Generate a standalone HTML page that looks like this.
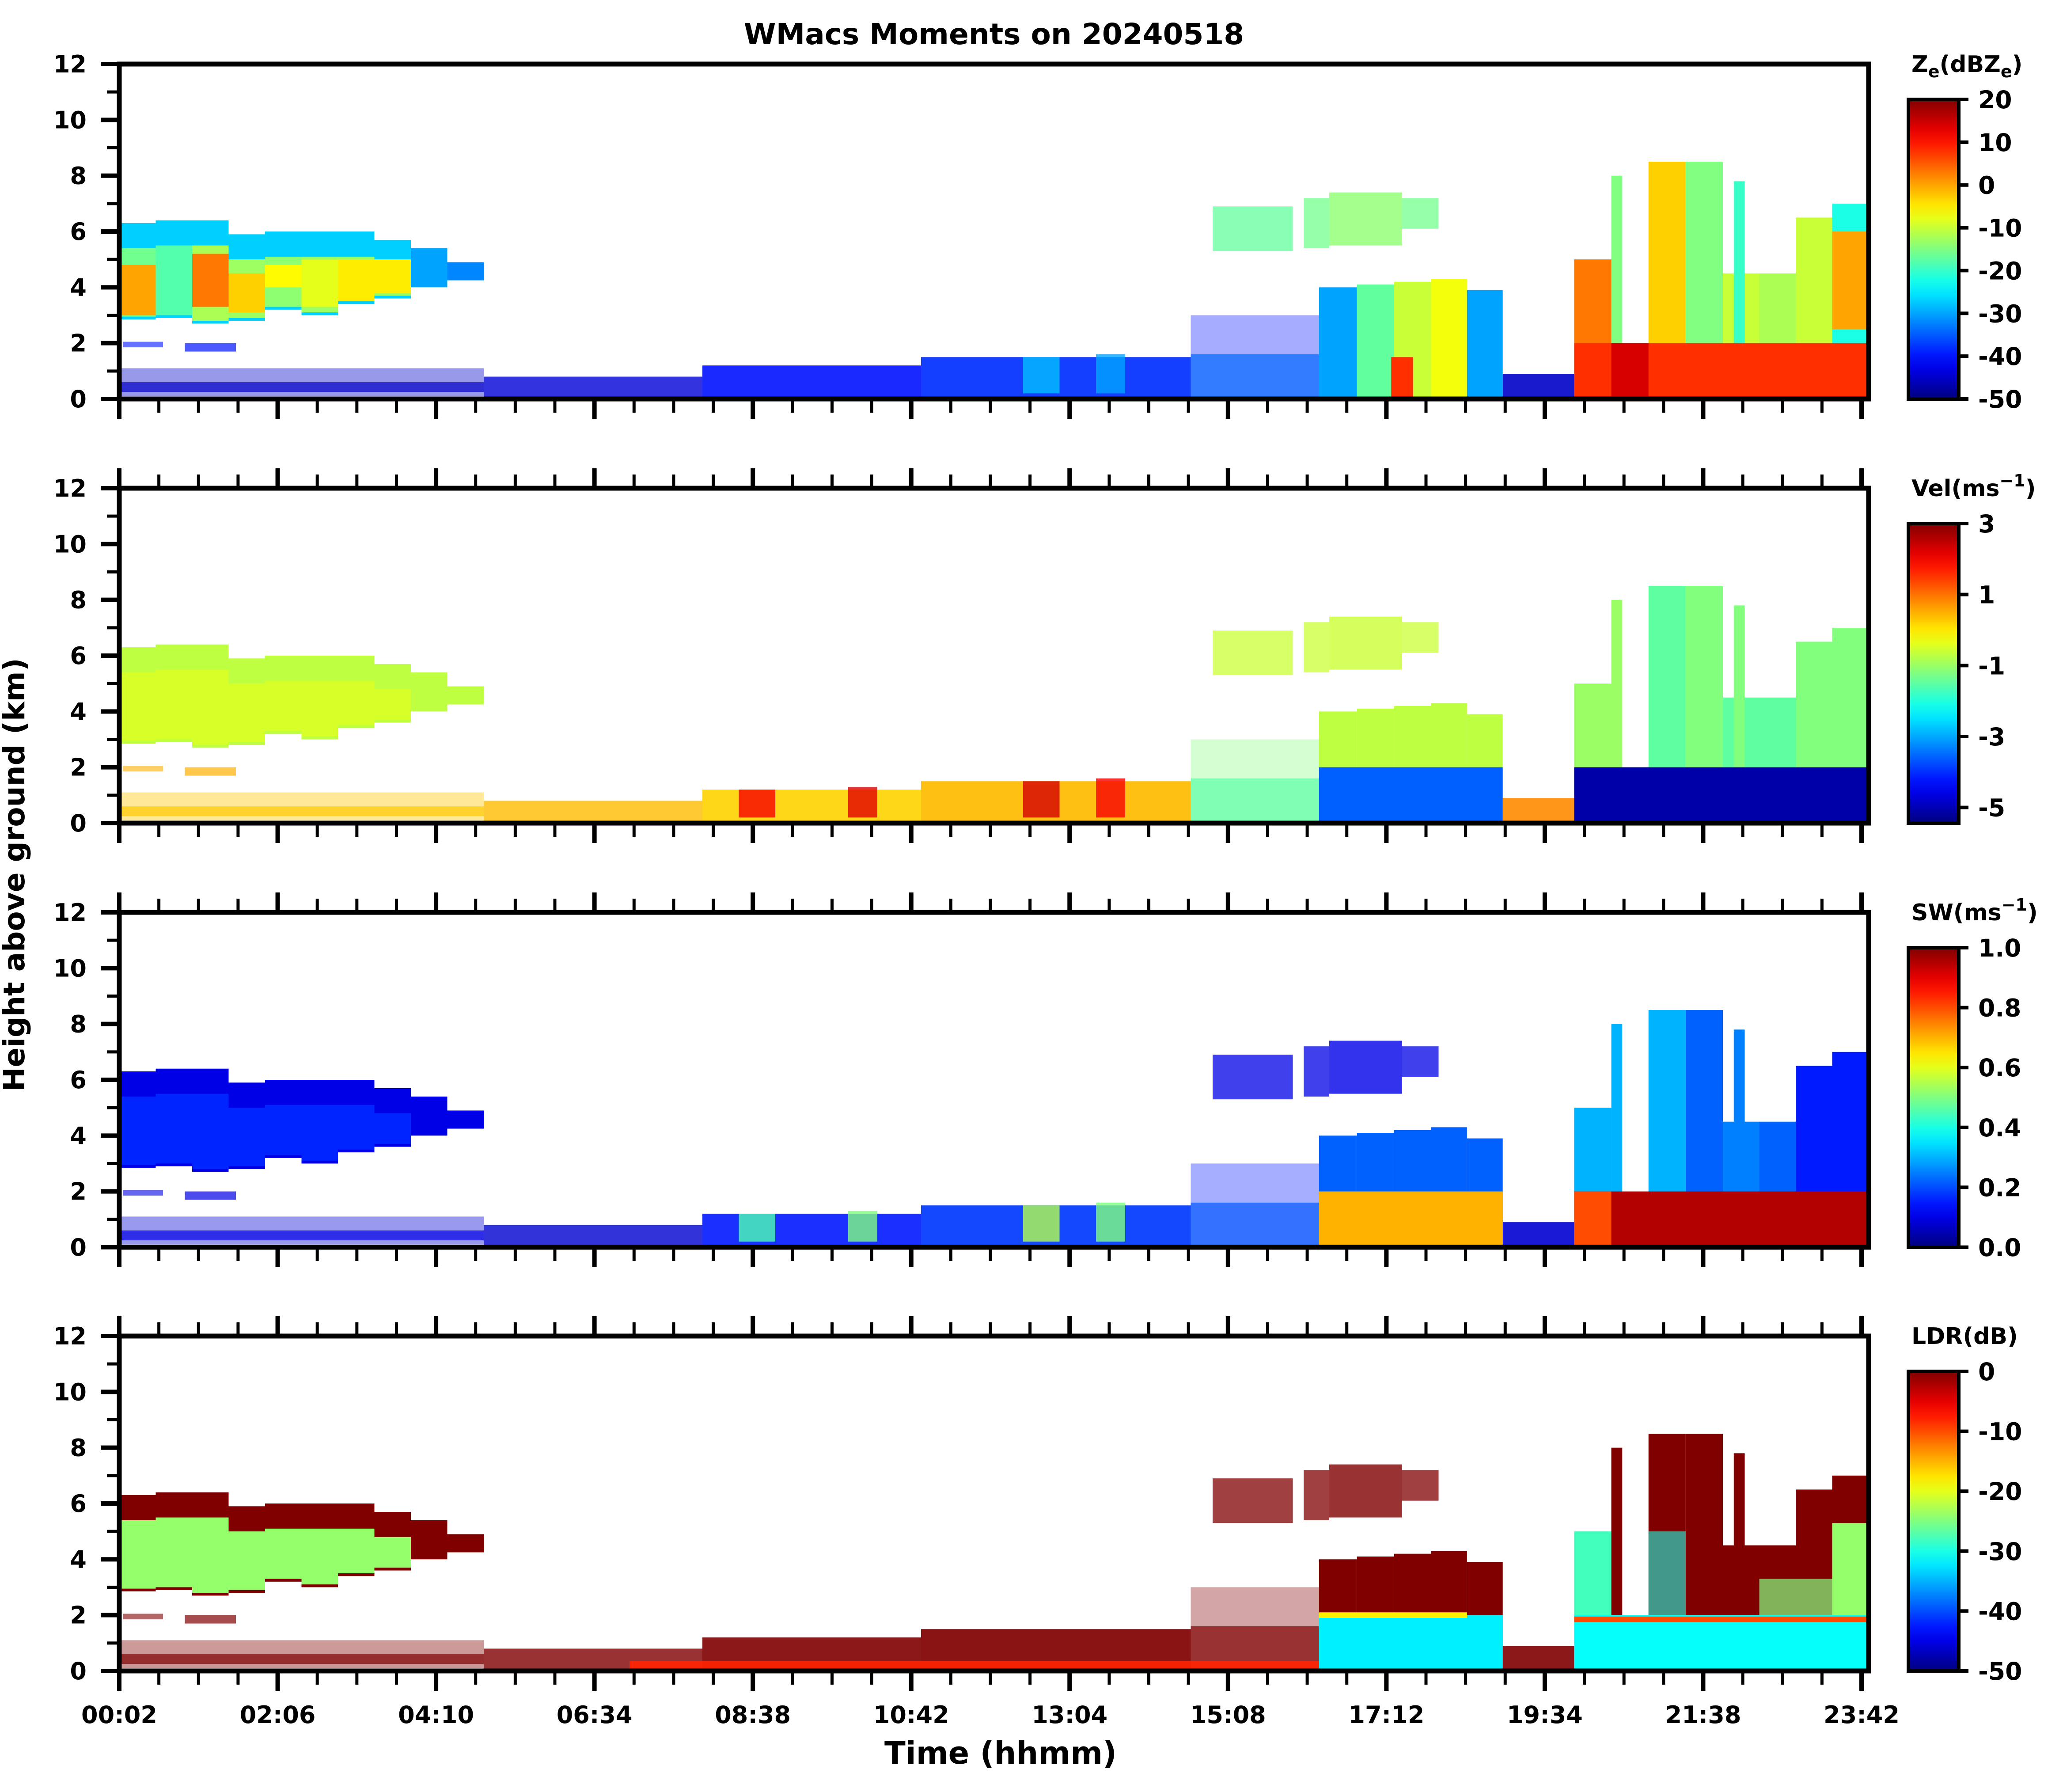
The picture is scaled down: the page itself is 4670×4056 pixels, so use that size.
<!DOCTYPE html>
<html><head><meta charset="utf-8"><style>
html,body{margin:0;padding:0;background:#fff;}
svg{display:block;}
text{font-family:"DejaVu Sans","Liberation Sans",sans-serif;font-weight:bold;fill:#000;}
</style></head><body>
<svg id="chart" xmlns="http://www.w3.org/2000/svg" width="4670" height="4056" viewBox="0 0 4670 4056">
<text x="2250" y="100" font-size="66" text-anchor="middle">WMacs Moments on 20240518</text>
<text x="2265" y="3992" font-size="70" text-anchor="middle">Time (hhmm)</text>
<text transform="translate(55,1980) rotate(-90)" font-size="66" text-anchor="middle">Height above ground (km)</text>
<g id="panels"></g>
</svg>
<script>
// ---- data ----
const timeTickLabels = ["00:02","02:06","04:10","06:34","08:38","10:42","13:04","15:08","17:12","19:34","21:38","23:42"];
const heightTicks = [0,2,4,6,8,10,12];
const zeTicks = [20,10,0,-10,-20,-30,-40,-50];
const velTicks = [3,1,-1,-3,-5];
const swTicks = [1.0,0.8,0.6,0.4,0.2,0.0];
const ldrTicks = [0,-10,-20,-30,-40,-50];

// echo features (hours, km) and per-moment values
const featStart = [0.0,0.0,5.0,8.0,11.0,14.7,14.7,18.98,7.0,8.5,10.0,12.4,13.4,0.05,0.9,
 0.02,0.5,1.0,1.5,2.0,2.5,3.0,3.5,4.0,4.5,
 0.02,0.5,1.0,1.5,2.0,2.5,3.0,3.5,
 0.02,0.5,1.0,1.5,2.0,2.5,3.0,3.5,
 15.0,16.25,16.6,17.6,
 16.46,16.98,17.49,18.0,18.49,
 16.46,17.45,16.46,
 19.96,20.47,20.98,21.49,22.0,22.15,22.5,23.0,23.5,23.5,20.98,22.5,
 19.96,20.47,19.96,19.96,23.5];
const featEnd = [5.0,5.0,8.0,11.0,14.7,16.46,16.46,19.96,16.46,9.0,10.4,12.9,13.8,0.6,1.6,
 0.5,1.0,1.5,2.0,2.5,3.0,3.5,4.0,4.5,5.0,
 0.5,1.0,1.5,2.0,2.5,3.0,3.5,4.0,
 0.5,1.0,1.5,2.0,2.5,3.0,3.5,4.0,
 16.1,16.6,17.6,18.1,
 16.98,17.49,18.0,18.49,18.98,
 18.98,17.75,18.49,
 20.47,20.62,21.49,22.0,22.5,22.3,23.0,23.5,24.0,24.0,21.49,23.5,
 24.0,20.98,24.0,20.47,24.0];
const featBase = [0.1,0.25,0.0,0.0,0.0,0.0,1.6,0.0,0.0,0.2,0.2,0.2,0.2,1.85,1.7,
 2.85,2.9,2.7,2.8,3.2,3.0,3.4,3.6,4.0,4.25,
 2.95,3.0,2.8,2.9,3.3,3.1,3.5,3.7,
 3.0,3.0,3.3,3.1,4.0,3.3,3.5,3.8,
 5.3,5.4,5.5,6.1,
 0,0,0,0,0,
 0,0,1.9,
 0,0,0,0,0,0,0,0,0,2.5,2.0,2.0,
 0,0,1.75,0,5.3];
const featTop = [1.1,0.6,0.8,1.2,1.5,1.6,3.0,0.9,0.35,1.2,1.3,1.5,1.6,2.05,2.0,
 6.3,6.4,6.4,5.9,6.0,6.0,6.0,5.7,5.4,4.9,
 5.4,5.5,5.5,5.0,5.1,5.1,5.1,4.8,
 4.8,4.0,5.2,4.5,4.8,5.0,5.0,5.0,
 6.9,7.2,7.4,7.2,
 4.0,4.1,4.2,4.3,3.9,
 2.0,1.5,2.1,
 5.0,8.0,8.5,8.5,4.5,7.8,4.5,6.5,7.0,6.0,5.0,3.3,
 2.0,2.0,1.95,2.0,7.0];
const zeVals = [-45,-45,-44,-40,-38,-35,-40,-45,null,null,null,-28,-30,-40,-40,
 -27,-27,-27,-27,-27,-27,-27,-27,-30,-32,
 -16,-18,-12,-13,-14,-13,-13,-13,
 0,-18,3,-3,-6,-8,-5,-5,
 -17,-16,-14,-16,
 -30,-17,-10,-7,-30,
 null,8,null,
 3,-15,-3,-15,-10,-20,-12,-10,-22,0,null,null,
 8,14,null,null,null];
const velVals = [0.3,0.3,0.4,0.2,0.4,-1.5,-1.2,0.8,null,2.0,2.2,2.3,2.0,0.5,0.5,
 -0.7,-0.7,-0.7,-0.7,-0.7,-0.7,-0.7,-0.7,-0.7,-0.7,
 -0.5,-0.5,-0.5,-0.5,-0.5,-0.5,-0.5,-0.5,
 null,null,null,null,null,null,null,null,
 -0.6,-0.6,-0.6,-0.6,
 -0.7,-0.7,-0.7,-0.7,-0.7,
 -3.6,null,null,
 -1.0,-1.0,-1.5,-1.2,-1.5,-1.2,-1.5,-1.2,-1.2,null,null,null,
 -5.1,null,null,null,null];
const swVals = [0.08,0.1,0.08,0.15,0.18,0.2,0.15,0.08,null,0.45,0.5,0.55,0.5,0.1,0.1,
 0.1,0.1,0.1,0.1,0.1,0.1,0.1,0.1,0.1,0.1,
 0.16,0.16,0.16,0.16,0.16,0.16,0.16,0.16,
 null,null,null,null,null,null,null,null,
 0.1,0.1,0.1,0.1,
 0.22,0.22,0.22,0.22,0.22,
 0.7,null,null,
 0.3,0.3,0.3,0.22,0.25,0.25,0.22,0.15,0.15,null,null,null,
 0.95,null,null,0.8,null];
const ldrVals = [0,0,0,0,0,0,0,0,-8,null,null,null,null,0,0,
 0,0,0,0,0,0,0,0,0,0,
 -24,-24,-24,-24,-24,-24,-24,-24,
 null,null,null,null,null,null,null,null,
 0,0,0,0,
 0,0,0,0,0,
 -32,null,-18,
 -28,0,0,0,0,0,0,0,-24,null,-30,-25,
 -31,null,-10,null,0];
const featCover = [0.4,0.7,0.8,0.9,0.92,0.8,0.35,0.9,0.9,0.8,0.8,0.8,0.8,0.6,0.7,
 1,1,1,1,1,1,1,1,1,1, 1,1,1,1,1,1,1,1, 1,1,1,1,1,1,1,1,
 0.75,0.75,0.8,0.75, 1,1,1,1,1, 1,1,1,
 1,1,1,1,1,1,1,1,1,1,0.6,0.7, 1,1,1,1,1];

// ---- layout ----
const NS = "http://www.w3.org/2000/svg";
const L = 270, R = 4230, PH = 758;
const panelTops = [145,1105,2065,3024];
const panels = [
 {name:"reflectivity", vals:zeVals, vmin:-50, vmax:20, ticks:zeTicks, fmt:v=>String(v), title:'Z<tspan font-size="38" dy="12">e</tspan><tspan dy="-12">(dBZ</tspan><tspan font-size="38" dy="12">e</tspan><tspan dy="-12">)</tspan>'},
 {name:"velocity", vals:velVals, vmin:-5.44, vmax:3, ticks:velTicks, fmt:v=>String(v), title:'Vel(ms<tspan font-size="38" dy="-22">−1</tspan><tspan dy="22">)</tspan>'},
 {name:"spectral-width", vals:swVals, vmin:0, vmax:1, ticks:swTicks, fmt:v=>v.toFixed(1), title:'SW(ms<tspan font-size="38" dy="-22">−1</tspan><tspan dy="22">)</tspan>'},
 {name:"ldr", vals:ldrVals, vmin:-50, vmax:0, ticks:ldrTicks, fmt:v=>String(v), title:'LDR(dB)'}
];
function jet(v){
  v=Math.max(0,Math.min(1,v));
  const c=x=>Math.round(255*Math.max(0,Math.min(1,x)));
  return `rgb(${c(1.5-Math.abs(4*v-3))},${c(1.5-Math.abs(4*v-2))},${c(1.5-Math.abs(4*v-1))})`;
}
const xScale = h => L + h/24*(R-L);
function mk(tag, attrs, parent){
  const e=document.createElementNS(NS,tag);
  for(const k in attrs) e.setAttribute(k,attrs[k]);
  parent.appendChild(e); return e;
}
const root=document.getElementById('panels');
const defs=mk('defs',{},root);

panels.forEach((p,pi)=>{
  const top=panelTops[pi], bot=top+PH;
  const yScale = km => bot - km/12*PH;
  const g=mk('g',{},root);
  
  
  const cp=mk('clipPath',{id:'clip'+pi},defs);
  mk('rect',{x:L,y:top,width:R-L,height:PH},cp);
  const data=mk('g',{'clip-path':`url(#clip${pi})`},g);
  
  
  for(let i=0;i<featStart.length;i++){
    const v=p.vals[i]; if(v===null||v===undefined) continue;
    const x0=xScale(featStart[i]), x1=xScale(featEnd[i]);
    const y0=yScale(featTop[i]), y1=yScale(featBase[i]);
    const r=mk('rect',{x:x0,y:y0,width:Math.max(1,x1-x0),height:Math.max(1,y1-y0),fill:jet((v-p.vmin)/(p.vmax-p.vmin)),'fill-opacity':featCover[i]},data);
    
    
  }
  const fr=mk('rect',{x:L,y:top,width:R-L,height:PH,fill:'none',stroke:'#000','stroke-width':11},g);
  
  
  for(let k=0;k<=12;k++){
    const y=yScale(k), major=k%2===0;
    mk('line',{x1:L,x2:L-(major?42:28),y1:y,y2:y,stroke:'#000','stroke-width':major?10:7},g);
  }
  heightTicks.forEach(k=>{
    const t=mk('text',{x:196,y:yScale(k)+19,'font-size':54,'text-anchor':'end'},g);
    t.textContent=k;
    
    
  });
  const step=(4214-L)/(timeTickLabels.length-1);
  for(let k=0;k<=44;k++){
    const x=L+k*step/4, major=k%4===0;
    const len=major?45:31;
    mk('line',{x1:x,x2:x,y1:bot,y2:bot+len,stroke:'#000','stroke-width':major?10:7},g);
    if(pi>0) mk('line',{x1:x,x2:x,y1:top,y2:top-len,stroke:'#000','stroke-width':major?10:7},g);
  }
  if(pi===3){
    timeTickLabels.forEach((lab,k)=>{
      const t=mk('text',{x:L+k*step,y:3900,'font-size':54,'text-anchor':'middle'},g);
      t.textContent=lab;
      
      
    });
  }
  const cbx=4320, cbw=114, cbt=top+80, cbh=PH-80;
  const lg=mk('linearGradient',{id:'cbg'+pi,x1:0,y1:1,x2:0,y2:0},defs);
  for(let s=0;s<=20;s++) mk('stop',{offset:s/20,'stop-color':jet(s/20)},lg);
  const cb=mk('rect',{x:cbx,y:cbt,width:cbw,height:cbh,fill:`url(#cbg${pi})`,stroke:'#000','stroke-width':8},g);
  
  
  p.ticks.forEach(v=>{
    const y=cbt+cbh*(p.vmax-v)/(p.vmax-p.vmin);
    mk('line',{x1:cbx+cbw,x2:cbx+cbw+22,y1:y,y2:y,stroke:'#000','stroke-width':8},g);
    const t=mk('text',{x:4478,y:y+20,'font-size':55},g);
    t.textContent=p.fmt(v);
    
    
  });
  const tt=mk('text',{x:4327,y:top+18,'font-size':52},g);
  tt.innerHTML=p.title;
  
  
});
</script>
</body></html>
